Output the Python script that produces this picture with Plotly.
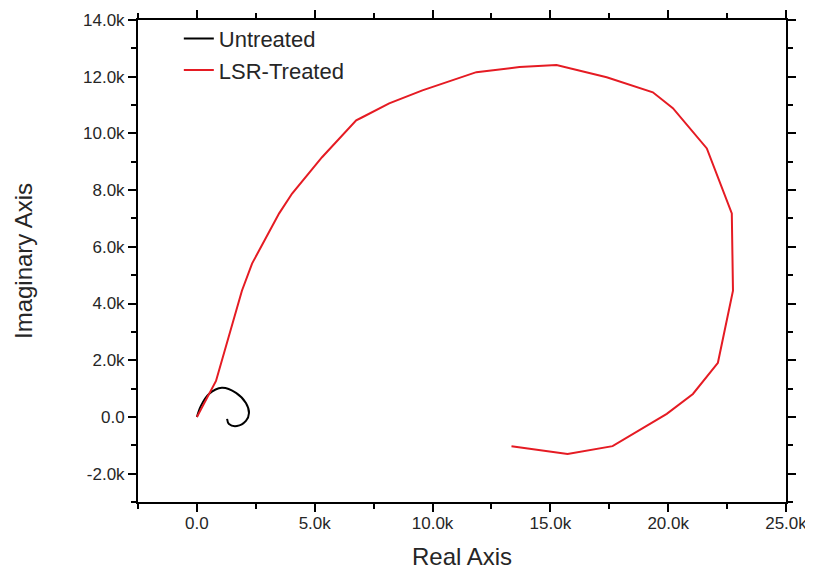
import plotly.graph_objects as go

# Untreated (black) spiral, in ohms
untreated_re = [0, 170, 510, 1060, 1660, 2080, 2210, 2080, 1700, 1360, 1280]
untreated_im = [0, 390, 810, 1030, 850, 490, 140, -140, -320, -250, -70]

# LSR-Treated (red) curve, in ohms
treated_re = [0, 810, 1910, 2340, 3490, 4040, 5310, 6760, 7020, 8160, 9570, 11860,
              13690, 15260, 17390, 19350, 20200, 21640, 22700, 22750, 22110, 21050,
              19940, 17640, 15730, 13350]
treated_im = [0, 1270, 4450, 5410, 7180, 7880, 9160, 10460, 10570, 11060, 11520, 12160,
              12340, 12410, 11980, 11450, 10890, 9470, 7180, 4450, 1910, 810,
              110, -1030, -1310, -1030]

x_tickvals = [0, 5000, 10000, 15000, 20000, 25000]
x_ticktext = ["0.0", "5.0k", "10.0k", "15.0k", "20.0k", "25.0k"]
y_tickvals = [-2000, 0, 2000, 4000, 6000, 8000, 10000, 12000, 14000]
y_ticktext = ["-2.0k", "0.0", "2.0k", "4.0k", "6.0k", "8.0k", "10.0k", "12.0k", "14.0k"]

FONT = "Liberation Sans, Arial, sans-serif"
TXT = "#262626"

fig = go.Figure()
fig.add_trace(go.Scatter(x=untreated_re, y=untreated_im, mode="lines", name="Untreated",
                         line=dict(color="black", width=2, shape="spline")))
fig.add_trace(go.Scatter(x=treated_re, y=treated_im, mode="lines", name="LSR-Treated",
                         line=dict(color="#e51b23", width=2)))

axis_common = dict(
    showline=True, linecolor="black", linewidth=2, mirror="ticks",
    ticks="outside", ticklen=8, tickwidth=2, tickcolor="black",
    showgrid=False, zeroline=False, automargin=False,
    tickfont=dict(family=FONT, size=17, color=TXT),
)

fig.update_xaxes(range=[-2500, 25000], tickvals=x_tickvals, ticktext=x_ticktext,
                 ticklabelstandoff=-3,
                 minor=dict(ticks="outside", ticklen=5, tickwidth=2, tickcolor="black",
                            dtick=2500, tick0=0, showgrid=False),
                 title=dict(text="Real Axis", font=dict(family=FONT, size=24, color=TXT),
                            standoff=16),
                 **axis_common)
fig.update_yaxes(range=[-3000, 14000], tickvals=y_tickvals, ticktext=y_ticktext,
                 minor=dict(ticks="outside", ticklen=5, tickwidth=2, tickcolor="black",
                            dtick=1000, tick0=0, showgrid=False),
                 title=dict(text="Imaginary Axis", font=dict(family=FONT, size=24, color=TXT),
                            standoff=44),
                 **axis_common)

# page body has an 8px default margin, so the figure is shrunk by 8px
fig.update_layout(
    width=805, height=567,
    margin=dict(l=130, r=27, t=10, b=73),
    paper_bgcolor="white", plot_bgcolor="white",
    showlegend=True,
    legend=dict(x=0.063, y=1.005, xanchor="left", yanchor="top",
                bgcolor="rgba(0,0,0,0)", borderwidth=0,
                font=dict(family=FONT, size=22, color=TXT),
                tracegroupgap=0),
)

fig.write_html("out.html")
